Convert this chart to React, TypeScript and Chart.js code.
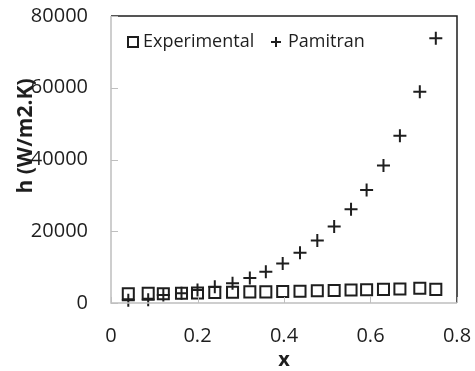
import React, { useEffect, useRef } from "react";
import { Chart, registerables } from "chart.js";

Chart.register(...registerables);

const xValues = [0.04, 0.086, 0.121, 0.163, 0.2, 0.24, 0.281, 0.321, 0.358, 0.397, 0.437, 0.477, 0.516, 0.555, 0.591, 0.63, 0.668, 0.714, 0.751];
const experimental = [2600, 2700, 2600, 2700, 2800, 2900, 3000, 3100, 3100, 3200, 3300, 3400, 3500, 3600, 3700, 3800, 3900, 4100, 3800];
const pamitran = [800, 900, 2200, 2700, 3600, 4500, 5500, 7000, 8700, 11000, 14000, 17400, 21300, 26100, 31500, 38300, 46600, 58900, 73800];
const seriesNames = ["Experimental", "Pamitran"];
const xTicks = [0, 0.2, 0.4, 0.6, 0.8];
const yTicks = [0, 20000, 40000, 60000, 80000];
const xTitle = "x";
const yTitle = "h (W/m2.K)";

const FONT = "'Open Sans', 'Noto Sans', sans-serif";
const INK = "#1e1e1e";
const AXIS = "#bfbfbf";

const framePlugin = {
  id: "frame",
  afterDatasetsDraw(chart: any) {
    const { ctx, chartArea: a, scales } = chart;
    ctx.save();
    ctx.strokeStyle = INK;
    ctx.lineWidth = 1.5;
    ctx.beginPath();
    ctx.moveTo(a.left, a.top);
    ctx.lineTo(a.right, a.top);
    ctx.lineTo(a.right, a.bottom);
    ctx.stroke();
    ctx.strokeStyle = AXIS;
    ctx.lineWidth = 1.5;
    ctx.beginPath();
    ctx.moveTo(a.left, a.top);
    ctx.lineTo(a.left, a.bottom);
    ctx.lineTo(a.right, a.bottom);
    ctx.stroke();
    ctx.lineWidth = 1;
    ctx.beginPath();
    yTicks.forEach((v) => {
      const y = Math.round(scales.y.getPixelForValue(v)) + 0.5;
      ctx.moveTo(a.left, y);
      ctx.lineTo(a.left + 7, y);
    });
    xTicks.forEach((v) => {
      const x = Math.round(scales.x.getPixelForValue(v)) + 0.5;
      ctx.moveTo(x, a.bottom);
      ctx.lineTo(x, a.bottom - 6);
    });
    ctx.stroke();
    ctx.restore();
  },
  afterDraw(chart: any) {
    const { ctx, chartArea: a } = chart;
    ctx.save();
    ctx.fillStyle = INK;
    ctx.font = `bold 21px ${FONT}`;
    ctx.textAlign = "center";
    ctx.textBaseline = "middle";
    ctx.translate(26, 136);
    ctx.rotate(-Math.PI / 2);
    ctx.fillText(yTitle, 0, 0);
    ctx.restore();

    ctx.save();
    const ly = a.top + 26;
    ctx.strokeStyle = INK;
    ctx.lineWidth = 2;
    ctx.strokeRect(a.left + 17, ly - 5, 10, 10);
    ctx.fillStyle = INK;
    ctx.font = `18px ${FONT}`;
    ctx.textAlign = "left";
    ctx.textBaseline = "middle";
    ctx.fillText(seriesNames[0], a.left + 32, ly);
    const cx = a.left + 165;
    ctx.beginPath();
    ctx.moveTo(cx - 5, ly);
    ctx.lineTo(cx + 5, ly);
    ctx.moveTo(cx, ly - 5);
    ctx.lineTo(cx, ly + 5);
    ctx.stroke();
    ctx.fillText(seriesNames[1], a.left + 177, ly);
    ctx.restore();
  },
};

export default function App() {
  const ref = useRef<HTMLCanvasElement | null>(null);
  useEffect(() => {
    if (!ref.current) return;
    const chart = new Chart(ref.current, {
      type: "scatter",
      data: {
        datasets: [
          {
            label: seriesNames[0],
            data: xValues.map((x, i) => ({ x, y: experimental[i] })),
            pointStyle: "rect",
            radius: 7.8,
            borderWidth: 2,
            borderColor: INK,
            backgroundColor: "rgba(0,0,0,0)",
            clip: false,
          } as any,
          {
            label: seriesNames[1],
            data: xValues.map((x, i) => ({ x, y: pamitran[i] })),
            pointStyle: "cross",
            radius: 6.5,
            borderWidth: 2,
            borderColor: INK,
            backgroundColor: INK,
            clip: false,
          } as any,
        ],
      },
      options: {
        responsive: false,
        animation: false,
        layout: { padding: { left: 0, top: 16, right: 18, bottom: 0 } },
        plugins: { legend: { display: false }, tooltip: { enabled: false } },
        scales: {
          x: {
            type: "linear",
            min: 0,
            max: 0.8,
            afterFit: (s: any) => {
              s.height = 68;
              s.paddingLeft = 0;
              s.paddingRight = 0;
            },
            afterBuildTicks: (s: any) => { s.ticks = xTicks.map((v) => ({ value: v })); },
            grid: { display: false, drawTicks: false },
            border: { display: false },
            ticks: {
              padding: 21,
              color: INK,
              font: { family: FONT, size: 20 },
              callback: (v: any) => String(Number(Number(v).toFixed(1))),
            },
            title: {
              display: true,
              text: xTitle,
              color: INK,
              font: { family: FONT, size: 20, weight: "bold", lineHeight: 1.1 },
              padding: 0,
            },
          },
          y: {
            type: "linear",
            min: 0,
            max: 80000,
            afterFit: (s: any) => {
              s.width = 111;
              s.paddingTop = 0;
              s.paddingBottom = 0;
            },
            afterBuildTicks: (s: any) => { s.ticks = yTicks.map((v) => ({ value: v })); },
            grid: { display: false, drawTicks: false },
            border: { display: false },
            ticks: {
              padding: 23,
              color: INK,
              font: { family: FONT, size: 20 },
              callback: (v: any) => String(v),
            },
          },
        },
      },
      plugins: [framePlugin],
    });
    return () => chart.destroy();
  }, []);
  return (
    <div style={{ position: "fixed", left: 0, top: 0, width: 475, height: 371, background: "#fff" }}>
      <canvas ref={ref} width={475} height={371} style={{ display: "block", width: 475, height: 371 }} />
    </div>
  );
}
